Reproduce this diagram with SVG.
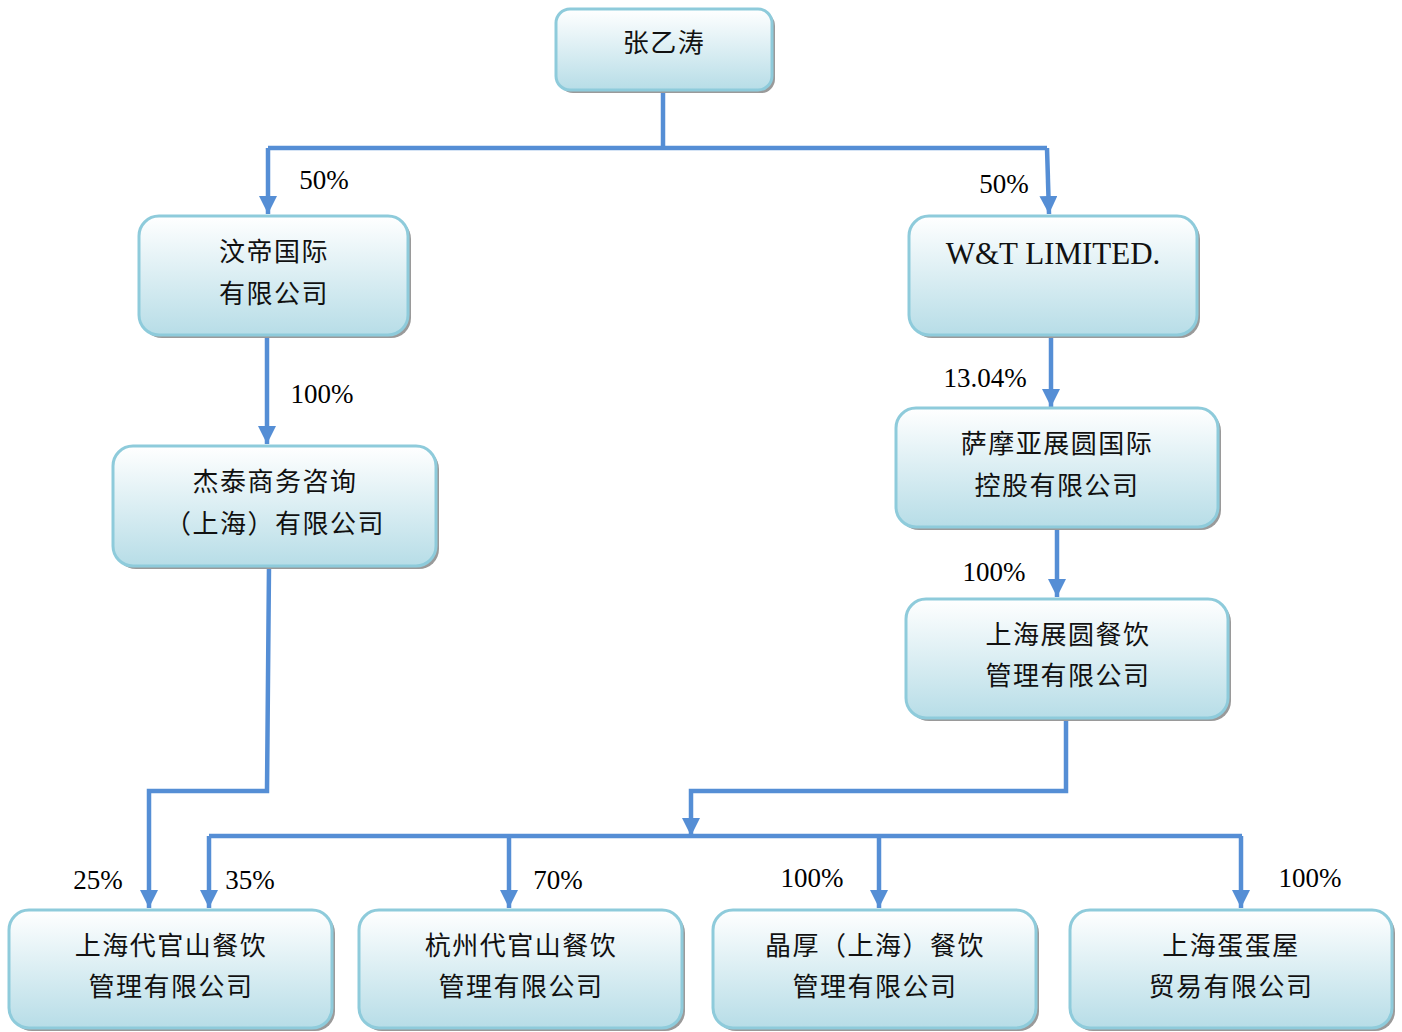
<svg xmlns="http://www.w3.org/2000/svg" width="1402" height="1032" viewBox="0 0 1402 1032">
<defs>
<linearGradient id="g" x1="0" y1="0" x2="0" y2="1">
<stop offset="0" stop-color="#ffffff"/>
<stop offset="1" stop-color="#b7dde7"/>
</linearGradient>
<marker id="a" markerUnits="userSpaceOnUse" markerWidth="18" markerHeight="18" viewBox="0 0 18 18" refX="18" refY="9" orient="auto">
<path d="M0,0 L18,9 L0,18 Z" fill="#558ed5"/>
</marker>
</defs>
<style>
.sh{fill:#9a9a9a;}
.bx{fill:url(#g);stroke:#8ecbdb;stroke-width:3;}
.t{font-family:"Liberation Serif","Noto Sans CJK SC",serif;font-size:26px;fill:#111;text-anchor:middle;letter-spacing:1.5px;}
.p{font-family:"Liberation Serif",serif;font-size:27px;fill:#000;text-anchor:middle;}
.c{fill:none;stroke:#558ed5;stroke-width:4.5;}
</style>
<rect width="1402" height="1032" fill="#fff"/>
<g id="connectors">
<path class="c" d="M663,90 V148"/>
<path class="c" d="M268,148 H1047"/>
<path class="c" d="M268,148 V214" marker-end="url(#a)"/>
<path class="c" d="M1047,148 L1049,214" marker-end="url(#a)"/>
<path class="c" d="M267,335 V444" marker-end="url(#a)"/>
<path class="c" d="M1051,337 V407" marker-end="url(#a)"/>
<path class="c" d="M1057,527 V597" marker-end="url(#a)"/>
<path class="c" d="M1066,718 V791 H691 V836" marker-end="url(#a)"/>
<path class="c" d="M209,836 H1242"/>
<path class="c" d="M209,836 V908" marker-end="url(#a)"/>
<path class="c" d="M509,836 V908" marker-end="url(#a)"/>
<path class="c" d="M879,836 V908" marker-end="url(#a)"/>
<path class="c" d="M1241,836 V908" marker-end="url(#a)"/>
<path class="c" d="M269,566 L267,791 H149 V908" marker-end="url(#a)"/>
<text class="p" x="324" y="189">50%</text>
<text class="p" x="1004" y="193">50%</text>
<text class="p" x="322" y="403">100%</text>
<text class="p" x="985" y="387">13.04%</text>
<text class="p" x="994" y="581">100%</text>
<text class="p" x="98" y="889">25%</text>
<text class="p" x="250" y="889">35%</text>
<text class="p" x="558" y="889">70%</text>
<text class="p" x="812" y="887">100%</text>
<text class="p" x="1310" y="887">100%</text>
</g>
<g id="n1"><rect class="sh" x="559" y="12" width="216" height="81" rx="14"/><rect class="bx" x="556" y="9" width="216" height="81" rx="14"/><text class="t" x="664" y="52">张乙涛</text></g>
<g id="n2"><rect class="sh" x="142" y="219" width="269" height="119" rx="20"/><rect class="bx" x="139" y="216" width="269" height="119" rx="20"/><text class="t" x="274" y="261">汶帝国际</text><text class="t" x="274" y="303">有限公司</text></g>
<g id="n3"><rect class="sh" x="912" y="219" width="288" height="119" rx="20"/><rect class="bx" x="909" y="216" width="288" height="119" rx="20"/><text class="t" x="1053" y="264" style="letter-spacing:0;font-size:31px">W&amp;T LIMITED.</text></g>
<g id="n4"><rect class="sh" x="116" y="449" width="323" height="120" rx="20"/><rect class="bx" x="113" y="446" width="323" height="120" rx="20"/><text class="t" x="275" y="491">杰泰商务咨询</text><text class="t" x="275" y="533">（上海）有限公司</text></g>
<g id="n5"><rect class="sh" x="899" y="411" width="322" height="119" rx="20"/><rect class="bx" x="896" y="408" width="322" height="119" rx="20"/><text class="t" x="1057" y="453">萨摩亚展圆国际</text><text class="t" x="1057" y="495">控股有限公司</text></g>
<g id="n6"><rect class="sh" x="909" y="602" width="322" height="119" rx="20"/><rect class="bx" x="906" y="599" width="322" height="119" rx="20"/><text class="t" x="1068" y="644">上海展圆餐饮</text><text class="t" x="1068" y="685">管理有限公司</text></g>
<g id="n7"><rect class="sh" x="12" y="913" width="323" height="118" rx="20"/><rect class="bx" x="9" y="910" width="323" height="118" rx="20"/><text class="t" x="171" y="955">上海代官山餐饮</text><text class="t" x="171" y="996">管理有限公司</text></g>
<g id="n8"><rect class="sh" x="362" y="913" width="323" height="118" rx="20"/><rect class="bx" x="359" y="910" width="323" height="118" rx="20"/><text class="t" x="521" y="955">杭州代官山餐饮</text><text class="t" x="521" y="996">管理有限公司</text></g>
<g id="n9"><rect class="sh" x="716" y="913" width="323" height="118" rx="20"/><rect class="bx" x="713" y="910" width="323" height="118" rx="20"/><text class="t" x="875" y="955">晶厚（上海）餐饮</text><text class="t" x="875" y="996">管理有限公司</text></g>
<g id="n10"><rect class="sh" x="1073" y="913" width="322" height="118" rx="20"/><rect class="bx" x="1070" y="910" width="322" height="118" rx="20"/><text class="t" x="1231" y="955">上海蛋蛋屋</text><text class="t" x="1231" y="996">贸易有限公司</text></g>
</svg>
